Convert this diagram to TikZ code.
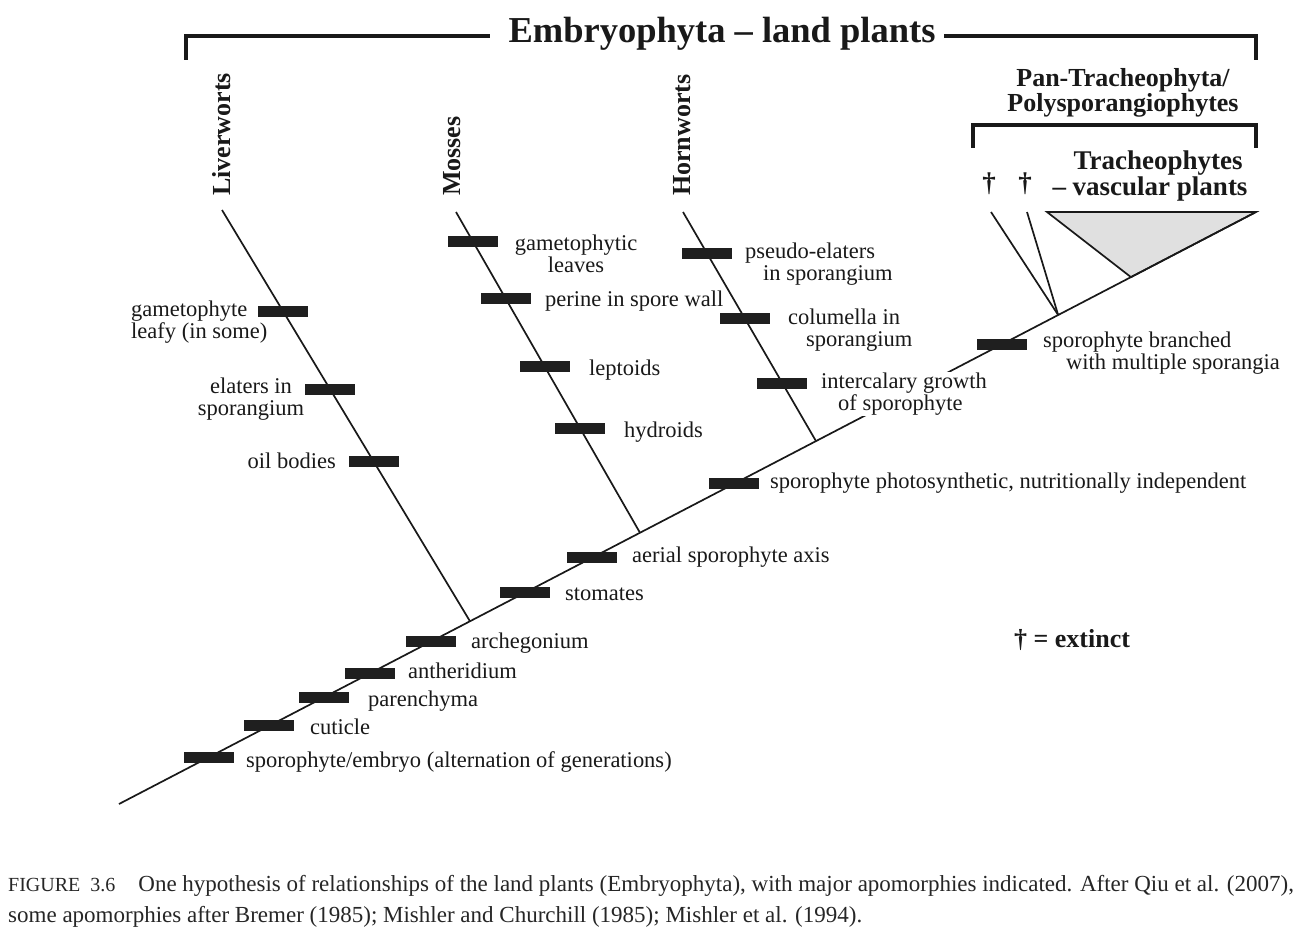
\documentclass[tikz,border=0pt]{standalone}
\usepackage{fontspec}
\setmainfont{Liberation Serif}
\usetikzlibrary{calc}
\begin{document}
\begin{tikzpicture}[x=1pt,y=-1pt,
  branch/.style={line width=1.7pt, draw=black!90},
  brk/.style={line width=4pt, draw=black!90},
  bar/.style={fill=black!88, minimum width=50pt, minimum height=11pt, inner sep=0pt},
  lab/.style={font=\fontsize{22.5}{22}\selectfont, inner sep=0pt, text=black!90},
  blab/.style={font=\fontsize{26}{25}\selectfont\bfseries, inner sep=0pt, text=black!90},
  caplab/.style={font=\fontsize{23}{23}\selectfont, inner sep=0pt, text=black!85}
]
\useasboundingbox[fill=white] (0,0) rectangle (1306,936);

% main line
\coordinate (r0) at (119,804);
\coordinate (r1) at (1256,212);
\coordinate (jL) at ($(r0)!0.3087!(r1)$);
\coordinate (jM) at ($(r0)!0.4582!(r1)$);
\coordinate (jH) at ($(r0)!0.613!(r1)$);
\coordinate (jE) at ($(r0)!0.826!(r1)$);
\coordinate (jT) at ($(r0)!0.890!(r1)$);
\coordinate (tL) at (222,210);
\coordinate (tM) at (456,212);
\coordinate (tH) at (683,212);
\coordinate (tE1) at (991,212);
\coordinate (tE2) at (1027,212);
\coordinate (tA) at (1047,212);

\filldraw[branch, fill=black!12, line join=miter] (tA) -- (r1) -- (jT) -- cycle;
\draw[branch] (r0) -- (r1);
\draw[branch] (tL) -- (jL);
\draw[branch] (tM) -- (jM);
\draw[branch] (tH) -- (jH);
\draw[branch] (tE1) -- (jE);
\draw[branch] (tE2) -- (jE);

% brackets
\draw[brk, line cap=butt] (186,60) -- (186,36) -- (490,36);
\draw[brk, line cap=butt] (944,36) -- (1256,36) -- (1256,60);
\node[font=\fontsize{36.5}{36}\selectfont\bfseries, text=black!90, inner sep=0pt] (title) at (722,34) {Embryophyta -- land plants};
\draw[brk, line cap=butt] (973,148) -- (973,125) -- (1256,125) -- (1256,148);
\node[blab, align=center] (pan) at (1123,93) {Pan-Tracheophyta/\\Polysporangiophytes};
\node[blab, font=\fontsize{27}{26}\selectfont\bfseries, align=center] (trach) at (1158,176) {Tracheophytes\\\hspace*{-16pt}-- vascular plants};
\node[blab, font=\fontsize{27}{27}\selectfont\bfseries] (d1) at (989,184) {\dag};
\node[blab, font=\fontsize{27}{27}\selectfont\bfseries] (d2) at (1025,184) {\dag};
\node[blab] (ext) at (1072,640) {\dag\ = extinct};

% clade names
\node[blab, rotate=90, anchor=west] (nL) at (222,196) {Liverworts};
\node[blab, rotate=90, anchor=west] (nM) at (452,196) {Mosses};
\node[blab, rotate=90, anchor=west] (nH) at (682,196) {Hornworts};

% markers on main line
\node[bar] (b1) at ($(r0)!0.079!(r1)$) {};
\node[bar] (b2) at ($(r0)!0.132!(r1)$) {};
\node[bar] (b3) at ($(r0)!0.180!(r1)$) {};
\node[bar] (b4) at ($(r0)!0.221!(r1)$) {};
\node[bar] (b5) at ($(r0)!0.274!(r1)$) {};
\node[bar] (b6) at ($(r0)!0.357!(r1)$) {};
\node[bar] (b7) at ($(r0)!0.416!(r1)$) {};
\node[bar] (b8) at ($(r0)!0.541!(r1)$) {};
\node[bar] (b9) at ($(r0)!0.777!(r1)$) {};
% liverworts
\node[bar] (l1) at ($(tL)!0.246!(jL)$) {};
\node[bar] (l2) at ($(tL)!0.436!(jL)$) {};
\node[bar] (l3) at ($(tL)!0.611!(jL)$) {};
% mosses
\node[bar] (m1) at ($(tM)!0.093!(jM)$) {};
\node[bar] (m2) at ($(tM)!0.271!(jM)$) {};
\node[bar] (m3) at ($(tM)!0.483!(jM)$) {};
\node[bar] (m4) at ($(tM)!0.676!(jM)$) {};
% hornworts
\node[bar] (h1) at ($(tH)!0.179!(jH)$) {};
\node[bar] (h2) at ($(tH)!0.467!(jH)$) {};
\node[bar] (h3) at ($(tH)!0.747!(jH)$) {};

% main-line labels
\node[lab, anchor=base west] (x1) at (246,767) {sporophyte/embryo (alternation of generations)};
\node[lab, anchor=base west] (x2) at (310,734) {cuticle};
\node[lab, anchor=base west] (x3) at (368,706) {parenchyma};
\node[lab, anchor=base west] (x4) at (408,678) {antheridium};
\node[lab, anchor=base west] (x5) at (471,648) {archegonium};
\node[lab, anchor=base west] (x6) at (565,600) {stomates};
\node[lab, anchor=base west] (x7) at (632,562) {aerial sporophyte axis};
\node[lab, anchor=base west] (x8) at (770,488) {sporophyte photosynthetic, nutritionally independent};
\node[lab, anchor=west, align=left] (x9) at (1043,353) {sporophyte branched\\\hspace*{23pt}with multiple sporangia};

% moss labels
\node[lab, align=center] (y1) at (576,254) {gametophytic\\leaves};
\node[lab, anchor=base west] (y2) at (545,306) {perine in spore wall};
\node[lab, anchor=base west] (y3) at (589,375) {leptoids};
\node[lab, anchor=base west] (y4) at (624,437) {hydroids};

% hornwort labels
\node[lab, anchor=west, align=left] (z1) at (745,264) {pseudo-elaters\\\hspace*{18pt}in sporangium};
\node[lab, anchor=west, align=left] (z2) at (788,330) {columella in\\\hspace*{18pt}sporangium};
\node[lab, anchor=west, align=left, fill=white, inner sep=1pt] (z3) at (820,394) {intercalary growth\\\hspace*{17pt}of sporophyte};

% liverwort labels
\node[lab, anchor=west, align=left] (w1) at (131,322) {gametophyte\\leafy (in some)};
\node[lab, align=center] (w2) at (251,399) {elaters in\\sporangium};
\node[lab, anchor=base east] (w3) at (336,468) {oil bodies};

% caption
\node[caplab, anchor=base west] (c1) at (8,891) {{\fontsize{20}{20}\selectfont FIGURE\ \ 3.6}\quad One hypothesis of relationships of the land plants (Embryophyta), with major apomorphies indicated. After Qiu et al. (2007),};
\node[caplab, anchor=base west] (c2) at (8,922) {some apomorphies after Bremer (1985); Mishler and Churchill (1985); Mishler et al. (1994).};
\end{tikzpicture}
\end{document}
